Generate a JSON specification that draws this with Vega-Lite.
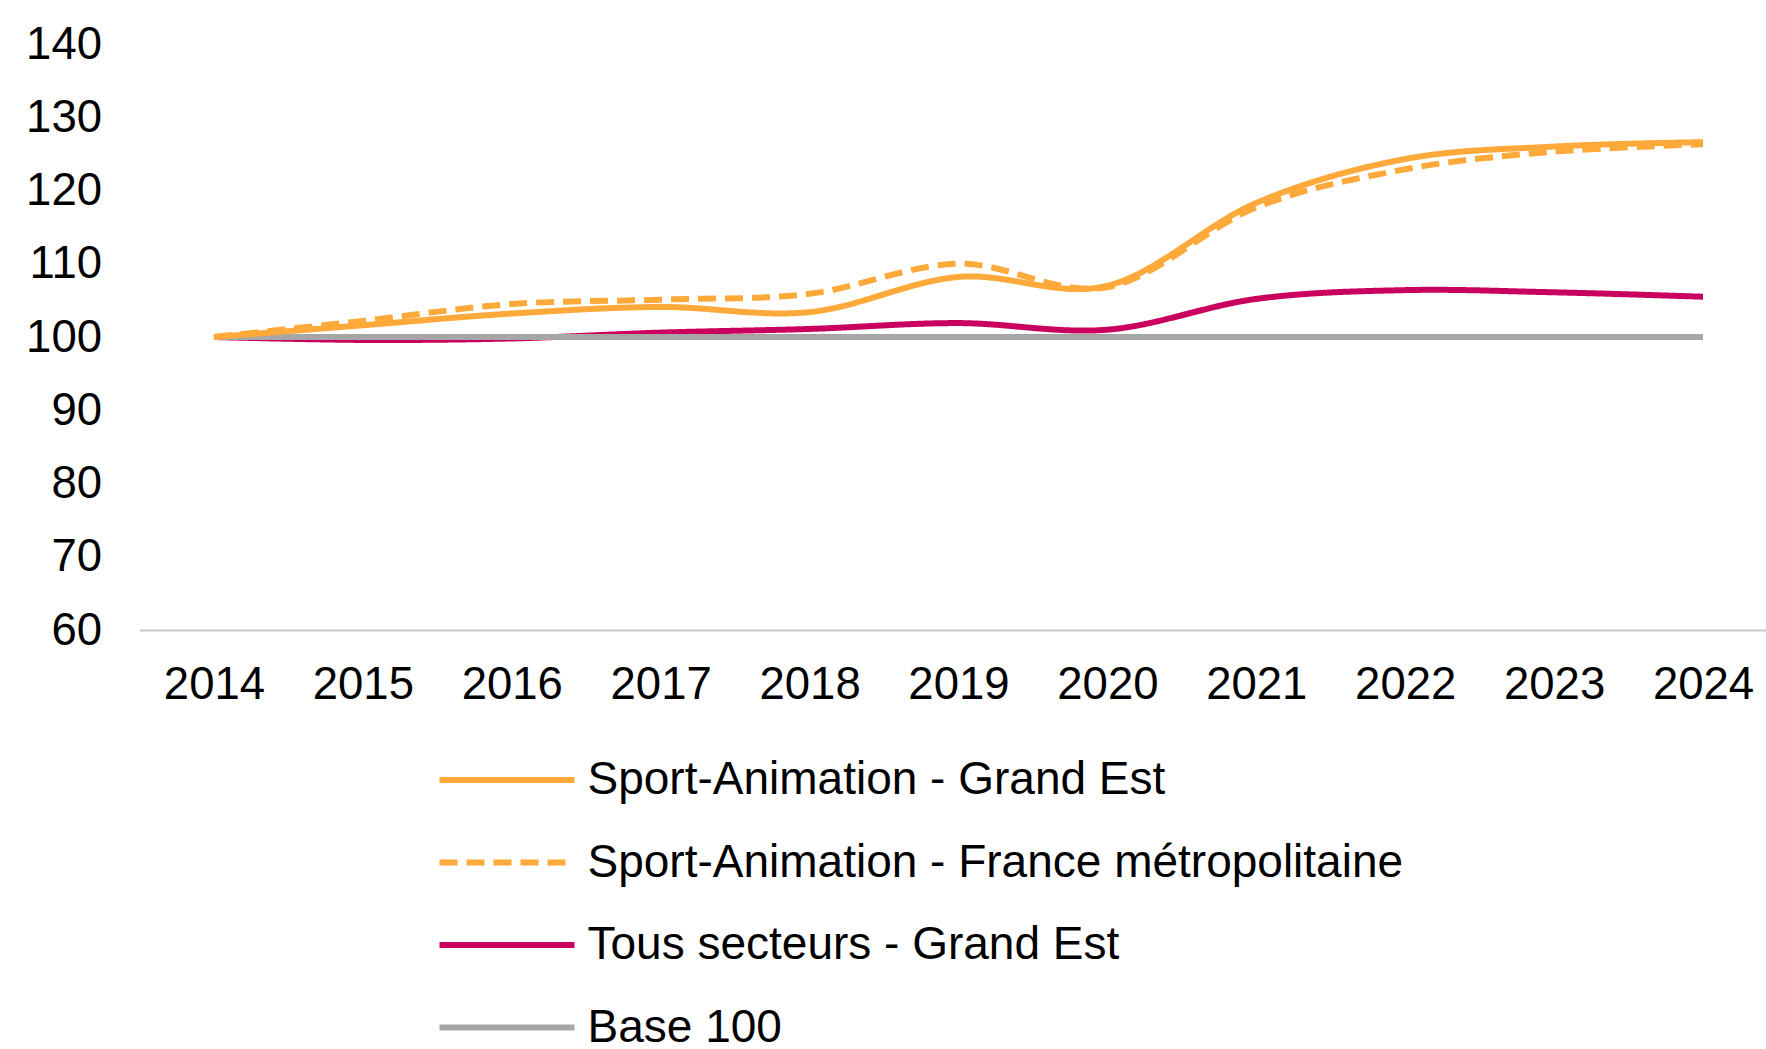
{
  "$schema": "https://vega.github.io/schema/vega-lite/v6.json",
  "autosize": {"type": "none"},
  "padding": {"left": 139.5, "top": 44, "right": 0, "bottom": 419},
  "width": 1626.5,
  "height": 586,
  "background": "white",
  "config": {
    "view": {"stroke": null},
    "font": "Liberation Sans"
  },
  "data": {
    "values": [
      {"annee": 2014, "serie": "Tous secteurs - Grand Est", "valeur": 100},
      {"annee": 2015, "serie": "Tous secteurs - Grand Est", "valeur": 99.6},
      {"annee": 2016, "serie": "Tous secteurs - Grand Est", "valeur": 99.8},
      {"annee": 2017, "serie": "Tous secteurs - Grand Est", "valeur": 100.6},
      {"annee": 2018, "serie": "Tous secteurs - Grand Est", "valeur": 101.1},
      {"annee": 2019, "serie": "Tous secteurs - Grand Est", "valeur": 101.9},
      {"annee": 2020, "serie": "Tous secteurs - Grand Est", "valeur": 101.0},
      {"annee": 2021, "serie": "Tous secteurs - Grand Est", "valeur": 105.2},
      {"annee": 2022, "serie": "Tous secteurs - Grand Est", "valeur": 106.4},
      {"annee": 2023, "serie": "Tous secteurs - Grand Est", "valeur": 106.1},
      {"annee": 2024, "serie": "Tous secteurs - Grand Est", "valeur": 105.5},
      {"annee": 2014, "serie": "Base 100", "valeur": 100},
      {"annee": 2015, "serie": "Base 100", "valeur": 100},
      {"annee": 2016, "serie": "Base 100", "valeur": 100},
      {"annee": 2017, "serie": "Base 100", "valeur": 100},
      {"annee": 2018, "serie": "Base 100", "valeur": 100},
      {"annee": 2019, "serie": "Base 100", "valeur": 100},
      {"annee": 2020, "serie": "Base 100", "valeur": 100},
      {"annee": 2021, "serie": "Base 100", "valeur": 100},
      {"annee": 2022, "serie": "Base 100", "valeur": 100},
      {"annee": 2023, "serie": "Base 100", "valeur": 100},
      {"annee": 2024, "serie": "Base 100", "valeur": 100},
      {"annee": 2014, "serie": "Sport-Animation - Grand Est", "valeur": 100},
      {"annee": 2015, "serie": "Sport-Animation - Grand Est", "valeur": 101.6},
      {"annee": 2016, "serie": "Sport-Animation - Grand Est", "valeur": 103.2},
      {"annee": 2017, "serie": "Sport-Animation - Grand Est", "valeur": 104.1},
      {"annee": 2018, "serie": "Sport-Animation - Grand Est", "valeur": 103.4},
      {"annee": 2019, "serie": "Sport-Animation - Grand Est", "valeur": 108.2},
      {"annee": 2020, "serie": "Sport-Animation - Grand Est", "valeur": 107.0},
      {"annee": 2021, "serie": "Sport-Animation - Grand Est", "valeur": 118.3},
      {"annee": 2022, "serie": "Sport-Animation - Grand Est", "valeur": 124.3},
      {"annee": 2023, "serie": "Sport-Animation - Grand Est", "valeur": 126.0},
      {"annee": 2024, "serie": "Sport-Animation - Grand Est", "valeur": 126.6},
      {"annee": 2014, "serie": "Sport-Animation - France métropolitaine", "valeur": 100},
      {"annee": 2015, "serie": "Sport-Animation - France métropolitaine", "valeur": 102.2},
      {"annee": 2016, "serie": "Sport-Animation - France métropolitaine", "valeur": 104.5},
      {"annee": 2017, "serie": "Sport-Animation - France métropolitaine", "valeur": 105.1},
      {"annee": 2018, "serie": "Sport-Animation - France métropolitaine", "valeur": 105.9},
      {"annee": 2019, "serie": "Sport-Animation - France métropolitaine", "valeur": 110.0},
      {"annee": 2020, "serie": "Sport-Animation - France métropolitaine", "valeur": 106.8},
      {"annee": 2021, "serie": "Sport-Animation - France métropolitaine", "valeur": 117.7},
      {"annee": 2022, "serie": "Sport-Animation - France métropolitaine", "valeur": 122.9},
      {"annee": 2023, "serie": "Sport-Animation - France métropolitaine", "valeur": 125.3},
      {"annee": 2024, "serie": "Sport-Animation - France métropolitaine", "valeur": 126.3}
    ]
  },
  "mark": {"type": "line", "interpolate": "cardinal", "tension": 0},
  "encoding": {
    "x": {
      "field": "annee",
      "type": "quantitative",
      "scale": {"domain": [2013.5, 2024.423], "nice": false, "zero": false},
      "axis": {
        "title": null,
        "values": [2014, 2015, 2016, 2017, 2018, 2019, 2020, 2021, 2022, 2023, 2024],
        "format": "d",
        "grid": false,
        "ticks": false,
        "tickSize": 0,
        "labelPadding": 32,
        "labelFontSize": 45.5,
        "labelColor": "#000000",
        "labelFont": "Liberation Sans",
        "labelFlush": false,
        "labelOverlap": false,
        "domainColor": "#C8C8C8",
        "domainWidth": 2
      }
    },
    "y": {
      "field": "valeur",
      "type": "quantitative",
      "scale": {"domain": [60, 140], "nice": false, "zero": false},
      "axis": {
        "title": null,
        "values": [60, 70, 80, 90, 100, 110, 120, 130, 140],
        "grid": false,
        "ticks": false,
        "tickSize": 0,
        "domain": false,
        "labelPadding": 38,
        "labelFontSize": 45.5,
        "labelColor": "#000000",
        "labelFont": "Liberation Sans",
        "labelFlush": false,
        "labelOverlap": false
      }
    },
    "color": {
      "field": "serie",
      "type": "nominal",
      "scale": {
        "domain": ["Sport-Animation - Grand Est", "Sport-Animation - France métropolitaine", "Tous secteurs - Grand Est", "Base 100"],
        "range": ["#FFA93A", "#FFA93A", "#C9005E", "#A6A6A6"]
      },
      "legend": {
        "title": null,
        "orient": "none",
        "legendX": 297,
        "legendY": 709,
        "direction": "vertical",
        "symbolType": "stroke",
        "symbolSize": 18225,
        "clipHeight": 54,
        "labelFontSize": 46,
        "labelFont": "Liberation Sans",
        "labelColor": "#000000",
        "labelOffset": 10,
        "rowPadding": 28.5,
        "labelLimit": 1200
      }
    },
    "strokeDash": {
      "field": "serie",
      "type": "nominal",
      "scale": {
        "domain": ["Sport-Animation - Grand Est", "Sport-Animation - France métropolitaine", "Tous secteurs - Grand Est", "Base 100"],
        "range": [[1, 0], [18, 9], [1, 0], [1, 0]]
      },
      "legend": {
        "title": null,
        "orient": "none",
        "legendX": 297,
        "legendY": 709,
        "direction": "vertical",
        "symbolType": "stroke",
        "symbolSize": 18225,
        "clipHeight": 54,
        "labelFontSize": 46,
        "labelFont": "Liberation Sans",
        "labelColor": "#000000",
        "labelOffset": 10,
        "rowPadding": 28.5,
        "labelLimit": 1200
      }
    },
    "strokeWidth": {
      "field": "serie",
      "type": "nominal",
      "scale": {
        "domain": ["Sport-Animation - Grand Est", "Sport-Animation - France métropolitaine", "Tous secteurs - Grand Est", "Base 100"],
        "range": [6, 6, 6, 3.5]
      },
      "legend": {
        "title": null,
        "orient": "none",
        "legendX": 297,
        "legendY": 709,
        "direction": "vertical",
        "symbolType": "stroke",
        "symbolSize": 18225,
        "clipHeight": 54,
        "labelFontSize": 46,
        "labelFont": "Liberation Sans",
        "labelColor": "#000000",
        "labelOffset": 10,
        "rowPadding": 28.5,
        "labelLimit": 1200
      }
    }
  }
}
